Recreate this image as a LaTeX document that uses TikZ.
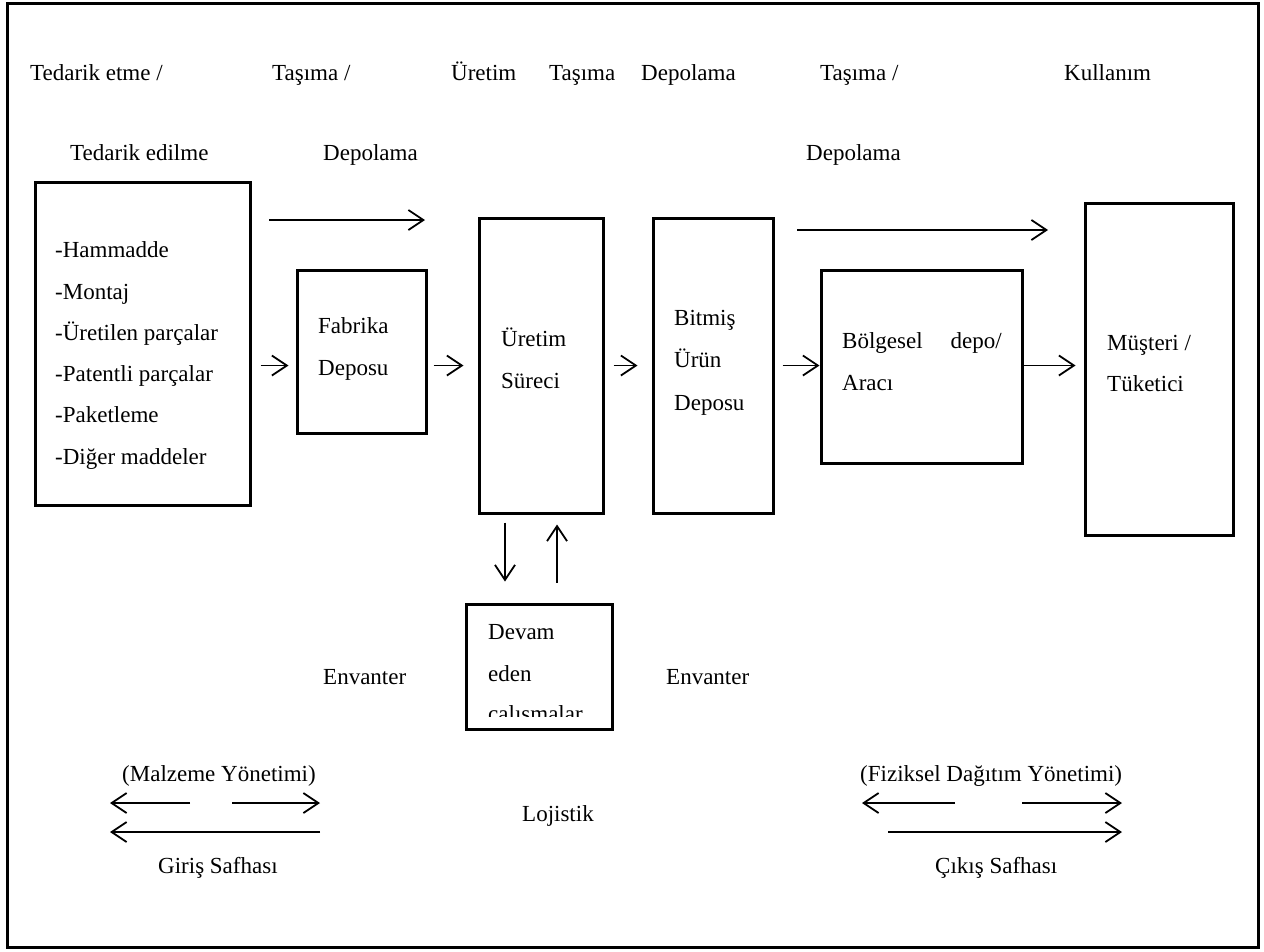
\documentclass[tikz,border=0pt]{standalone}
\usepackage{fontspec}
\setmainfont{Liberation Serif}
\usetikzlibrary{arrows.meta,calc}
\begin{document}
\begin{tikzpicture}[x=1pt,y=-1pt,
  every node/.style={font=\fontsize{23}{27}\selectfont, inner sep=0pt},
  lbl/.style={anchor=base west},
  boxnode/.style={draw, line width=3pt, rectangle, minimum width=#1},
  arr/.style={line width=1.8pt, -{Straight Barb[length=15pt,width=20pt,line width=1.8pt]}},
  frameline/.style={line width=3pt}]
\useasboundingbox (0,0) rectangle (1264,951);
\draw[frameline] (7,3) rectangle (1258,947);

% boxes
\node[boxnode=215pt, minimum height=323pt] (b1) at (142.5,343.5) {};
\node[boxnode=129pt, minimum height=163pt] (fab) at (361.5,351.5) {};
\node[boxnode=124pt, minimum height=295pt] (ure) at (541,365.5) {};
\node[boxnode=120pt, minimum height=295pt] (bit) at (713,365.5) {};
\node[boxnode=201pt, minimum height=193pt] (bol) at (921.5,366.5) {};
\node[boxnode=148pt, minimum height=332pt] (mus) at (1159,369) {};

% box texts
\node[lbl] (t1) at (55,257) {-Hammadde};
\node[lbl] (t2) at (55,299) {-Montaj};
\node[lbl] (t3) at (55,340) {-Üretilen parçalar};
\node[lbl] (t4) at (55,381) {-Patentli parçalar};
\node[lbl] (t5) at (55,422) {-Paketleme};
\node[lbl] (t6) at (55,464) {-Diğer maddeler};
\node[lbl] (f1) at (318,333) {Fabrika};
\node[lbl] (f2) at (318,375) {Deposu};
\node[lbl] (u1) at (501,346) {Üretim};
\node[lbl] (u2) at (501,388) {Süreci};
\node[lbl] (k1) at (674,325) {Bitmiş};
\node[lbl] (k2) at (674,367) {Ürün};
\node[lbl] (k3) at (674,410) {Deposu};
\node[lbl] (g1) at (842,348) {Bölgesel};
\node[anchor=base east] (g2) at (1002,348) {depo/};
\node[lbl] (g3) at (842,390) {Aracı};
\node[lbl] (c1) at (1107,350) {Müşteri /};
\node[lbl] (c2) at (1107,391) {Tüketici};

% devam eden box with clipped text
\begin{scope}
  \clip (466,604) rectangle (612,716);
  \node[lbl] (d1) at (488,639) {Devam};
  \node[lbl] (d2) at (488,681) {eden};
  \node[lbl] (d3) at (488,721) {çalışmalar};
\end{scope}
\node[boxnode=146pt, minimum height=125pt] (dev) at (539,666.5) {};

% top labels
\node[lbl] (h1) at (30,80) {Tedarik etme /};
\node[lbl] (h2) at (272,80) {Taşıma /};
\node[lbl] (h3) at (451,80) {Üretim};
\node[lbl] (h4) at (549,80) {Taşıma};
\node[lbl] (h5) at (641,80) {Depolama};
\node[lbl] (h6) at (820,80) {Taşıma /};
\node[lbl] (h7) at (1064,80) {Kullanım};
\node[lbl] (s1) at (70,160) {Tedarik edilme};
\node[lbl] (s2) at (323,160) {Depolama};
\node[lbl] (s3) at (806,160) {Depolama};

% top long arrows
\coordinate (ta1) at (269,220);
\coordinate (ta2) at (425,220);
\coordinate (tb1) at (797,230);
\coordinate (tb2) at (1048,230);
\draw[arr] (ta1) -- (ta2);
\draw[arr] (tb1) -- (tb2);

% flow arrows
\draw[arr] ($(b1.east|-ure.center)+(9,0)$) -- ($(fab.west|-ure.center)+(-7,0)$);
\draw[arr] ($(fab.east|-ure.center)+(6,0)$) -- ($(ure.west)+(-14,0)$);
\draw[arr] ($(ure.east)+(9,0)$) -- ($(bit.west)+(-14,0)$);
\draw[arr] ($(bit.east)+(8,0)$) -- (bol.west|-ure.center);
\draw[arr] (bol.east|-ure.center) -- ($(mus.west|-ure.center)+(-8,0)$);

% vertical arrows
\draw[arr] ($(ure.south)+(-36,8)$) -- ($(dev.north)+(-34,-21)$);
\draw[arr] ($(dev.north)+(18,-20)$) -- ($(ure.south)+(16,10)$);

% inventory labels
\node[lbl] (e1) at (323,684) {Envanter};
\node[lbl] (e2) at (666,684) {Envanter};

% bottom left
\node[lbl] (mz) at (122,781) {(Malzeme Yönetimi)};
\coordinate (ml1) at (190,803);
\coordinate (ml2) at (110,803);
\coordinate (mr1) at (232,803);
\coordinate (mr2) at (320,803);
\coordinate (mg1) at (320,832);
\coordinate (mg2) at (110,832);
\draw[arr] (ml1) -- (ml2);
\draw[arr] (mr1) -- (mr2);
\draw[arr] (mg1) -- (mg2);
\node[lbl] (gs) at (158,873) {Giriş Safhası};

\node[lbl] (lj) at (522,821) {Lojistik};

% bottom right
\node[lbl] (fz) at (860,781) {(Fiziksel Dağıtım Yönetimi)};
\coordinate (fl1) at (955,803);
\coordinate (fl2) at (862,803);
\coordinate (fr1) at (1022,803);
\coordinate (fr2) at (1122,803);
\coordinate (fg1) at (888,832);
\coordinate (fg2) at (1122,832);
\draw[arr] (fl1) -- (fl2);
\draw[arr] (fr1) -- (fr2);
\draw[arr] (fg1) -- (fg2);
\node[lbl] (cs) at (935,873) {Çıkış Safhası};
\end{tikzpicture}
\end{document}
